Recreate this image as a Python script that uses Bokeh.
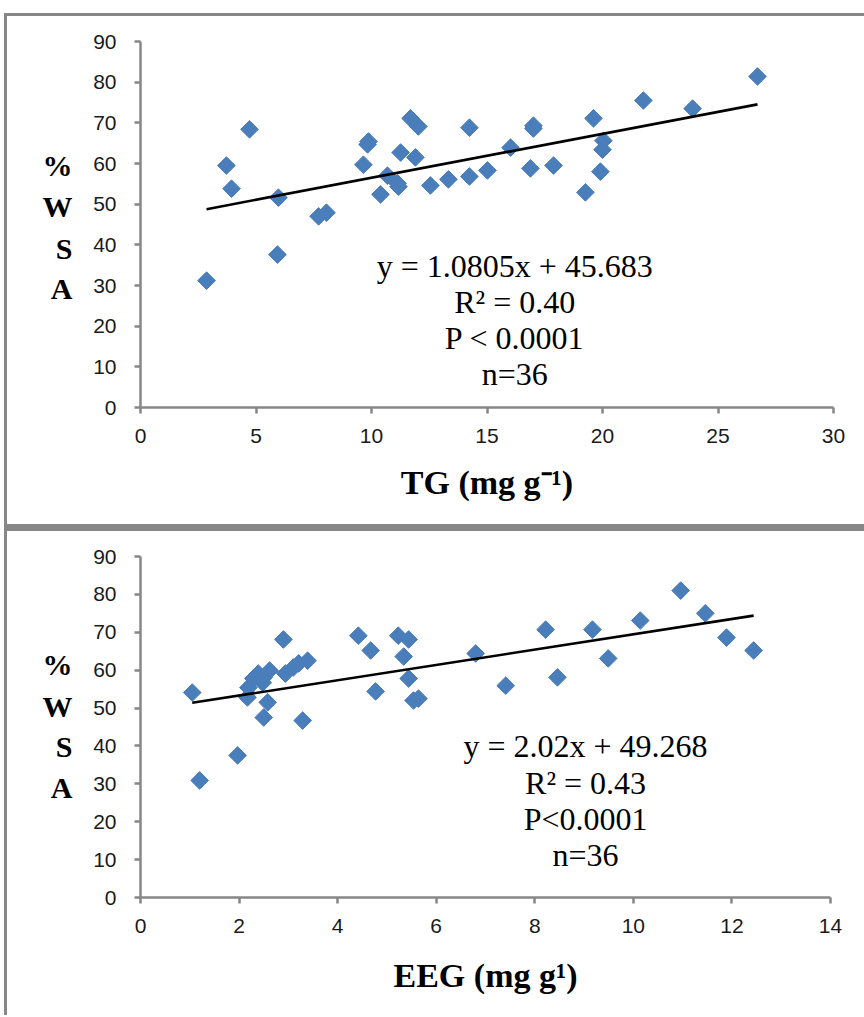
import numpy as np
from bokeh.plotting import figure
from bokeh.models import Range1d, SingleIntervalTicker, FixedTicker, LinearAxis, Label, Div, ColumnDataSource
from bokeh.layouts import column, row
from bokeh.embed import file_html
from bokeh.resources import INLINE

# ---------------- data ----------------
tg_x = [2.86, 3.72, 3.94, 4.72, 5.93, 5.97, 7.71, 8.05, 9.65, 9.83, 9.87, 10.39,
        10.69, 11.13, 11.17, 11.26, 11.69, 12.03, 11.90, 12.55, 13.33, 14.24, 14.24,
        15.02, 16.02, 16.88, 17.01, 17.01, 17.88, 19.26, 19.61, 19.91, 20.00, 20.04,
        21.77, 23.90, 26.71]
tg_y = [31.2, 59.5, 53.8, 68.4, 37.6, 51.6, 47.0, 47.9, 59.7, 64.7, 65.4, 52.4,
        57.0, 55.1, 54.3, 62.7, 71.1, 69.1, 61.5, 54.6, 56.1, 68.8, 56.8,
        58.3, 63.9, 58.8, 69.3, 68.6, 59.5, 52.9, 71.1, 58.0, 63.4, 65.6,
        75.5, 73.5, 81.4]
tg_slope, tg_icpt = 1.0805, 45.683

eeg_x = [1.05, 1.20, 1.97, 2.17, 2.19, 2.29, 2.39, 2.48, 2.50, 2.50, 2.58, 2.62,
         2.90, 2.94, 3.10, 3.21, 3.29, 3.39, 4.42, 4.67, 4.77, 5.23, 5.44, 5.34,
         5.44, 5.54, 5.64, 6.80, 7.41, 8.22, 8.46, 9.17, 9.49, 10.14, 10.96,
         11.46, 11.89, 12.44]
eeg_y = [54.1, 30.9, 37.5, 52.8, 55.4, 57.8, 59.1, 56.7, 58.1, 47.5, 51.5, 59.9,
         68.1, 59.1, 60.7, 61.8, 46.7, 62.5, 69.1, 65.2, 54.4, 69.1, 68.1, 63.6,
         57.8, 52.0, 52.5, 64.4, 55.9, 70.7, 58.1, 70.7, 63.1, 73.1, 81.0,
         75.0, 68.6, 65.2]
eeg_slope, eeg_icpt = 2.02, 49.268

tg_stats = ["y = 1.0805x + 45.683", "R\u00b2 = 0.40", "P < 0.0001", "n=36"]
eeg_stats = ["y = 2.02x + 49.268", "R\u00b2 = 0.43", "P<0.0001", "n=36"]
ylabel_letters = ["%", "W", "S", "A"]
tg_xlabel = "TG (mg g\u207b\u00b9)"
eeg_xlabel = "EEG (mg g\u00b9)"

GREY = "#878787"
BLUE = "#4A7EBB"
TICK_FONT = "Liberation Sans"
SERIF = "Liberation Serif"
W = 857
LEFT = 133


def make_panel(xs, ys, slope, icpt, xmax, xstep, height, fr_top, fr_h, fr_w,
               stats, stat_x, stat_y, letter_y, xlabel, xlab_standoff):
    p = figure(width=W, height=height, output_backend="svg", toolbar_location=None,
               x_range=Range1d(0, xmax), y_range=Range1d(0, 90),
               min_border_left=LEFT, min_border_right=W - LEFT - fr_w,
               min_border_top=fr_top, min_border_bottom=height - fr_top - fr_h)
    p.outline_line_color = None
    p.grid.visible = False
    p.background_fill_color = "white"
    p.border_fill_color = "white"

    src = ColumnDataSource(dict(x=xs, y=ys))
    p.scatter("x", "y", source=src, marker="square", size=12.5, angle=np.pi / 4,
              fill_color=BLUE, line_color=BLUE, line_width=1)
    lx = [min(xs), max(xs)]
    ly = [slope * v + icpt for v in lx]
    p.line(lx, ly, line_color="black", line_width=2.6)

    for ax in (p.xaxis[0], p.yaxis[0]):
        ax.axis_line_color = GREY
        ax.axis_line_width = 2.5
        ax.major_tick_line_color = GREY
        ax.major_tick_line_width = 2.5
        ax.major_tick_in = 0
        ax.major_tick_out = 6
        ax.minor_tick_line_color = None
        ax.major_label_text_font = TICK_FONT
        ax.major_label_text_font_size = "21px"
        ax.major_label_text_color = "#1a1a1a"
    p.xaxis.ticker = SingleIntervalTicker(interval=xstep)
    p.yaxis.ticker = SingleIntervalTicker(interval=10)
    p.yaxis.major_label_standoff = 18
    p.xaxis.major_label_standoff = 15

    p.xaxis.axis_label = xlabel
    p.xaxis.axis_label_text_font = SERIF
    p.xaxis.axis_label_text_font_style = "bold"
    p.xaxis.axis_label_text_font_size = "34px"
    p.xaxis.axis_label_text_color = "black"
    p.xaxis.axis_label_standoff = xlab_standoff

    # stacked "% W S A" label drawn as a second, line-less left axis
    lab_axis = LinearAxis(
        ticker=FixedTicker(ticks=letter_y),
        major_label_overrides={v: t for v, t in zip(letter_y, ylabel_letters)},
        axis_line_color=None, major_tick_line_color=None,
        minor_tick_line_color=None, major_tick_in=0, major_tick_out=0,
        major_label_standoff=18, major_label_text_font=SERIF,
        major_label_text_font_style="bold", major_label_text_font_size="30px",
        major_label_text_color="black")
    p.add_layout(lab_axis, "left")

    for t, yy in zip(stats, stat_y):
        p.add_layout(Label(x=stat_x, y=yy, text=t, text_align="center",
                           text_baseline="middle", text_font=SERIF,
                           text_font_size="32px", text_color="black"))
    return p


p1 = make_panel(tg_x, tg_y, tg_slope, tg_icpt, 30, 5, 508, 25, 366, 693,
                tg_stats, 16.2, [34.9, 26.0, 17.0, 8.2],
                [59.5, 49.4, 39.1, 29.3], tg_xlabel, 18)
p2 = make_panel(eeg_x, eeg_y, eeg_slope, eeg_icpt, 14, 2, 484, 25, 341, 690,
                eeg_stats, 9.03, [40.1, 30.3, 20.6, 11.1],
                [61.5, 50.4, 39.9, 29.0], eeg_xlabel, 21)


def bar(w, h, color):
    return Div(text="", width=w, height=h,
               styles={"background-color": color, "margin": "0", "padding": "0"})


layout = column(
    bar(864, 13, "white"),
    row(bar(4, 3, "white"), bar(860, 3, GREY), spacing=0),
    row(bar(4, 508, "white"), bar(3, 508, GREY), p1, spacing=0),
    row(bar(4, 7, "white"), bar(860, 7, GREY), spacing=0),
    row(bar(4, 484, "white"), bar(3, 484, GREY), p2, spacing=0),
    spacing=0,
)

open("out.html", "w").write(file_html(layout, INLINE))
